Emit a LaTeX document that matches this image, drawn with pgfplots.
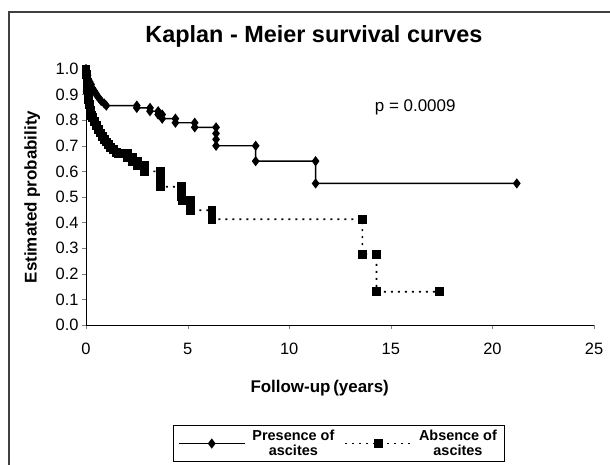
\documentclass[border=0pt]{standalone}
\usepackage{fontspec}
\setmainfont{Liberation Sans}
\usepackage{pgfplots}
\pgfplotsset{compat=1.18}
\usepackage{pgfplotstable}

% Kaplan-Meier steps, ascites present (corners of each step)
\pgfplotstableread{
t s
0.00 1.000
0.05 0.990
0.08 0.975
0.12 0.960
0.18 0.950
0.25 0.940
0.32 0.925
0.40 0.915
0.48 0.905
0.55 0.895
0.65 0.885
0.75 0.875
0.90 0.865
1.00 0.857
2.50 0.857
2.50 0.848
3.15 0.848
3.15 0.835
3.55 0.835
3.55 0.822
3.75 0.822
3.75 0.806
4.40 0.806
4.40 0.790
5.35 0.790
5.35 0.772
6.40 0.772
6.40 0.748
6.40 0.725
6.40 0.700
8.35 0.700
8.35 0.640
11.30 0.640
11.30 0.553
21.20 0.553
}\presence

% ascites absent
\pgfplotstableread{
t s
0.00 1.000
0.03 0.980
0.05 0.960
0.07 0.940
0.09 0.920
0.11 0.900
0.13 0.880
0.16 0.860
0.20 0.840
0.25 0.820
0.30 0.810
0.40 0.795
0.50 0.780
0.60 0.765
0.70 0.750
0.80 0.735
0.90 0.725
1.00 0.715
1.10 0.705
1.20 0.695
1.35 0.685
1.50 0.675
1.60 0.670
2.05 0.670
2.05 0.655
2.30 0.655
2.30 0.640
2.55 0.640
2.55 0.622
2.90 0.622
2.90 0.600
3.65 0.600
3.65 0.582
3.65 0.560
3.65 0.540
4.70 0.540
4.70 0.520
4.70 0.500
4.75 0.485
5.15 0.485
5.15 0.465
5.15 0.448
6.20 0.448
6.20 0.430
6.20 0.413
13.60 0.413
13.60 0.276
14.30 0.276
14.30 0.130
17.40 0.130
}\absence

\begin{document}
\begin{tikzpicture}
\path[use as bounding box] (0bp,0bp) rectangle (610bp,465bp);
\draw[line width=1.5bp,black!75] (9bp,0bp) -- (9bp,453bp) -- (610bp,453bp);
\node[font=\bfseries\fontsize{23.5}{27}\selectfont] at (314bp,429bp) {Kaplan - Meier survival curves};
\begin{axis}[
  at={(86bp,140bp)}, anchor=south west,
  scale only axis, width=508bp, height=256bp,
  xmin=0, xmax=25, ymin=0, ymax=1,
  axis x line=bottom, axis y line=left,
  axis line style={-,line width=0.8bp},
  xtick={0,5,10,15,20,25},
  ytick={0,0.1,0.2,0.3,0.4,0.5,0.6,0.7,0.8,0.9,1},
  yticklabel style={/pgf/number format/.cd,fixed,fixed zerofill,precision=1},
  /pgf/number format/assume math mode=true,
  tick label style={font=\fontsize{16.5}{19}\selectfont},
  xticklabel style={yshift=-11bp},
  tick align=outside, major tick length=4bp,
  xlabel={Follow-up\,(years)},
  ylabel={Estimated probability},
  label style={font=\bfseries\fontsize{17}{20}\selectfont},
  xlabel style={at={(axis description cs:0.46,-0.245)},anchor=center},
  ylabel style={at={(axis description cs:-0.106,0.5)},anchor=center},
  clip=false,
  legend columns=2,
  legend style={at={(0.497,-0.463)},anchor=center,draw=black,line width=0.7bp,
    font=\bfseries\fontsize{14.5}{15.5}\selectfont,inner xsep=5bp,inner ysep=2bp,
    nodes={align=center},
    /tikz/every even column/.append style={column sep=8bp},
    /tikz/every odd column/.append style={column sep=5bp}},
  legend image code/.code={\draw[mark repeat=2,mark phase=2,#1]
    plot coordinates {(0bp,0bp) (33bp,0bp) (66bp,0bp)};},
]
\addplot[black,line width=1.4bp,mark=diamond*,mark size=4bp,mark options={solid}]
  table[x=t,y=s] {\presence};
\addlegendentry{Presence of\\ascites}
\addplot[black,line width=1.7bp,dash pattern=on 2bp off 5bp,mark=square*,mark size=3.6bp,mark options={solid}]
  table[x=t,y=s] {\absence};
\addlegendentry{Absence of\\ascites}
\node[font=\fontsize{17}{20}\selectfont] at (axis cs:16.2,0.85) {p = 0.0009};
\end{axis}
\end{tikzpicture}
\end{document}
